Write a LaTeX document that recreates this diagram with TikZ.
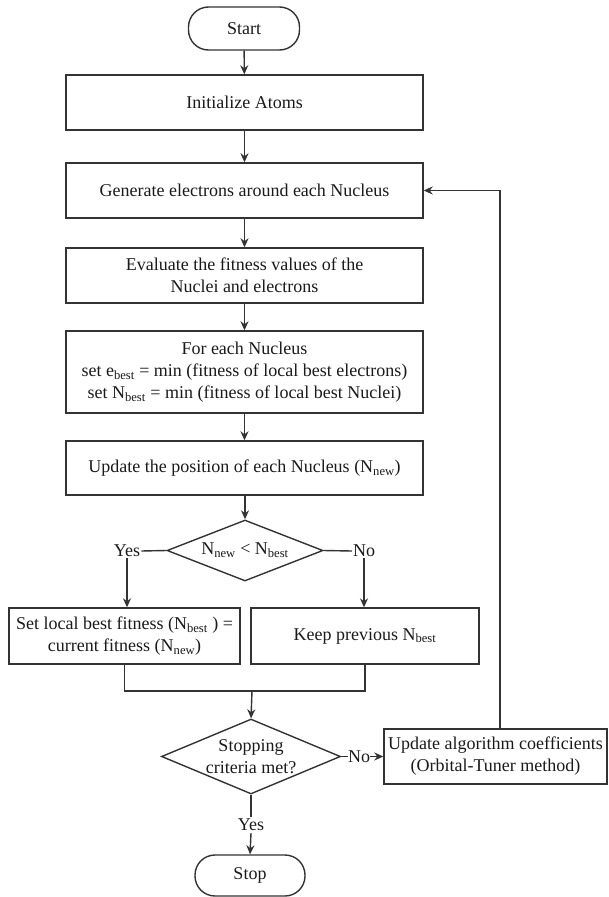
\documentclass[tikz,border=0pt]{standalone}
\usepackage{fontspec}
\setmainfont{Liberation Serif}
\usetikzlibrary{shapes.geometric,arrows.meta}
\definecolor{ln}{HTML}{333333}
\definecolor{tx}{HTML}{1A1A1A}
\tikzset{
  box/.style={draw=ln, line width=1.4pt, rectangle, inner sep=0pt, align=center, text=tx, font=\fontsize{18}{22}\selectfont},
  term/.style={box, rounded corners=20pt},
  dia/.style={draw=ln, line width=1.4pt, diamond, inner sep=0pt},
  lbl/.style={inner sep=1pt, text=tx, font=\fontsize{18}{22}\selectfont, align=center},
  con/.style={draw=ln, line width=1.4pt},
  arr/.style={con, -{Stealth[length=9pt,width=8pt]}}
}
\begin{document}
\begin{tikzpicture}[x=1pt,y=-1pt]
\useasboundingbox (0,0) rectangle (609,897);
\node[term, minimum width=111pt, minimum height=43pt] (start) at (244,28.5) {Start};
\node[box, minimum width=357pt, minimum height=55pt] (init) at (244.5,102.5) {Initialize Atoms};
\node[box, minimum width=357pt, minimum height=55pt] (gen) at (244.5,190.5) {Generate electrons around each Nucleus};
\node[box, minimum width=357pt, minimum height=55pt] (eval) at (244.5,275.5) {Evaluate the fitness values of the\\Nuclei and electrons};
\node[box, minimum width=357pt, minimum height=82pt] (each) at (244.5,372) {For each Nucleus\\set e\textsubscript{best} = min (fitness of local best electrons)\\set N\textsubscript{best} = min (fitness of local best Nuclei)};
\node[box, minimum width=357pt, minimum height=54pt] (upd) at (244.5,468) {Update the position of each Nucleus (N\textsubscript{new})};
\node[dia, minimum width=156pt, minimum height=61pt] (d1) at (245,550.5) {};
\node[lbl] (d1t) at (d1) {N\textsubscript{new} < N\textsubscript{best}};
\node[lbl] (yes1) at (127,551) {Yes};
\node[lbl] (no1) at (364,551) {No};
\node[box, minimum width=231pt, minimum height=56pt] (lbox) at (124.5,636) {Set local best fitness (N\textsubscript{best} ) =\\current fitness (N\textsubscript{new})};
\node[box, minimum width=228pt, minimum height=56pt] (rbox) at (365,636) {Keep previous N\textsubscript{best}};
\coordinate (m) at (252,691);
\node[dia, minimum width=179pt, minimum height=75pt] (d2) at (251,756.5) {};
\node[lbl] (d2t) at (d2) {Stopping\\criteria met?};
\node[lbl, inner sep=0pt] (no2) at (359,756.5) {No};
\node[box, minimum width=223pt, minimum height=55pt] (ubox) at (495.5,756.5) {Update algorithm coefficients\\(Orbital-Tuner method)};
\node[lbl, inner sep=2pt] (yes2) at (251,825) {Yes};
\node[term, minimum width=110pt, minimum height=41pt] (stop) at (250,875.5) {Stop};
\coordinate (fb) at (500,729);
% connectors
\draw[arr] (start) -- (init);
\draw[arr] (init) -- (gen);
\draw[arr] (gen) -- (eval);
\draw[arr] (eval) -- (each);
\draw[arr] (each) -- (upd);
\draw[arr] (upd.south -| d1.north) -- (d1.north);
\draw[con] (d1.west) -- (yes1.east);
\draw[con] (d1.east) -- (no1.west);
\draw[arr] (yes1.south) -- (yes1.south |- lbox.north);
\draw[arr] (no1.south) -- (no1.south |- rbox.north);
\draw[con] (lbox.south) |- (m) -| (rbox.south);
\draw[arr] (m) -- (d2.north);
\draw[con] (d2.east) -- (no2.west);
\draw[arr] (no2.east) -- (ubox.west);
\draw[con] (d2.south) -- (yes2.north);
\draw[arr] (yes2.south) -- (stop.north);
\draw[arr] (fb) |- (gen.east);
\end{tikzpicture}
\end{document}
